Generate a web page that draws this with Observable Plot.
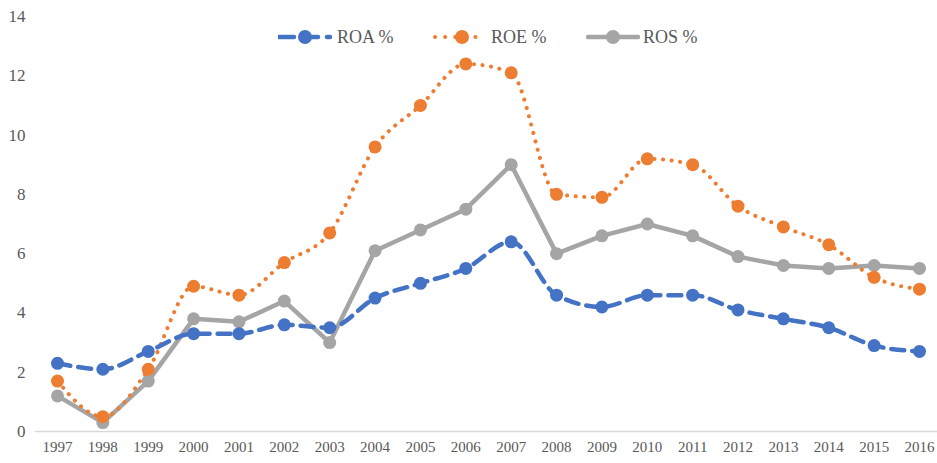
<!DOCTYPE html>
<html><head><meta charset="utf-8">
<script src="https://cdn.jsdelivr.net/npm/d3@7"></script>
<script src="https://cdn.jsdelivr.net/npm/@observablehq/plot@0.6"></script>
<style>
body{margin:0;background:#fff;}
#wrap{position:relative;width:937px;height:463px;font-family:"Liberation Serif","Times New Roman",serif;}
#legend{position:absolute;top:25px;left:0;width:937px;height:24px;}
.icon{position:absolute;top:0;}
.lab{position:absolute;top:1px;font-size:18px;line-height:22px;color:#595959;white-space:nowrap;}
</style></head>
<body><div id="wrap"><div id="legend"></div></div>
<script>
const years = [1997,1998,1999,2000,2001,2002,2003,2004,2005,2006,2007,2008,2009,2010,2011,2012,2013,2014,2015,2016];
const roa = [2.3,2.1,2.7,3.3,3.3,3.6,3.5,4.5,5.0,5.5,6.4,4.6,4.2,4.6,4.6,4.1,3.8,3.5,2.9,2.7];
const roe = [1.7,0.5,2.1,4.9,4.6,5.7,6.7,9.6,11.0,12.4,12.1,8.0,7.9,9.2,9.0,7.6,6.9,6.3,5.2,4.8];
const ros = [1.2,0.3,1.7,3.8,3.7,4.4,3.0,6.1,6.8,7.5,9.0,6.0,6.6,7.0,6.6,5.9,5.6,5.5,5.6,5.5];
const seriesNames = ["ROA %","ROE %","ROS %"];
const colors = ["#4472C4","#ED7D31","#A5A5A5"];
const yTicks = [0,2,4,6,8,10,12,14];

const rows = s => years.map((y,i)=>({year:y,v:s[i]}));
const dROA = rows(roa), dROE = rows(roe), dROS = rows(ros);

const chart = Plot.plot({
  width:937, height:463,
  marginLeft:35, marginRight:0, marginTop:16, marginBottom:32,
  style:{fontFamily:'"Liberation Serif","Times New Roman",serif', color:"#595959", background:"#fff"},
  x:{domain:[1997,2016], range:[57,919], ticks:years, tickFormat:d=>String(d), label:null, tickSize:0, tickPadding:10},
  y:{domain:[0,14], ticks:yTicks, label:null, tickSize:0, tickPadding:10},
  marks:[
    Plot.ruleY([0],{stroke:"#D9D9D9", strokeWidth:1.3}),
    Plot.line(dROS,{x:"year",y:"v",stroke:colors[2],strokeWidth:4.5,strokeLinejoin:"round"}),
    Plot.dot(dROS,{x:"year",y:"v",fill:colors[2],r:6.5}),
    Plot.line(dROE,{x:"year",y:"v",stroke:colors[1],strokeWidth:4,curve:"monotone-x",strokeDasharray:"0.1,8.5",strokeLinecap:"round"}),
    Plot.dot(dROE,{x:"year",y:"v",fill:colors[1],r:6.5}),
    Plot.line(dROA,{x:"year",y:"v",stroke:colors[0],strokeWidth:4.5,curve:"monotone-x",strokeDasharray:"13,8"}),
    Plot.dot(dROA,{x:"year",y:"v",fill:colors[0],r:6.5})
  ]
});
chart.querySelectorAll('[aria-label="y-axis tick label"] text').forEach(t=>t.style.fontSize="17px");
chart.querySelectorAll('[aria-label="x-axis tick label"] text').forEach(t=>t.style.fontSize="15px");
document.getElementById("wrap").prepend(chart);

const leg = document.getElementById("legend");
// icon left, icon width, label left
const pos = [[278,54,337],[430,50,491],[586,54,643]];
const icons = [
  c=>`<line x1="1" y1="12" x2="52" y2="12" stroke="${c}" stroke-width="4.5" stroke-dasharray="15,9" stroke-linecap="round"/><circle cx="27" cy="12" r="7" fill="${c}"/>`,
  c=>`<line x1="5" y1="12" x2="47" y2="12" stroke="${c}" stroke-width="4" stroke-dasharray="0.1,10" stroke-linecap="round"/><circle cx="32" cy="12" r="7" fill="${c}"/>`,
  c=>`<line x1="2" y1="12" x2="52" y2="12" stroke="${c}" stroke-width="4.5" stroke-linecap="round"/><circle cx="27" cy="12" r="7" fill="${c}"/>`
];
seriesNames.forEach((n,i)=>{
  const [l,w,tl]=pos[i];
  const ic=document.createElementNS("http://www.w3.org/2000/svg","svg");
  ic.setAttribute("width",w); ic.setAttribute("height",24); ic.setAttribute("class","icon");
  ic.style.left=l+"px"; ic.innerHTML=icons[i](colors[i]);
  leg.appendChild(ic);
  const s=document.createElement("span"); s.className="lab"; s.style.left=tl+"px"; s.textContent=n;
  leg.appendChild(s);
});
</script></body></html>
